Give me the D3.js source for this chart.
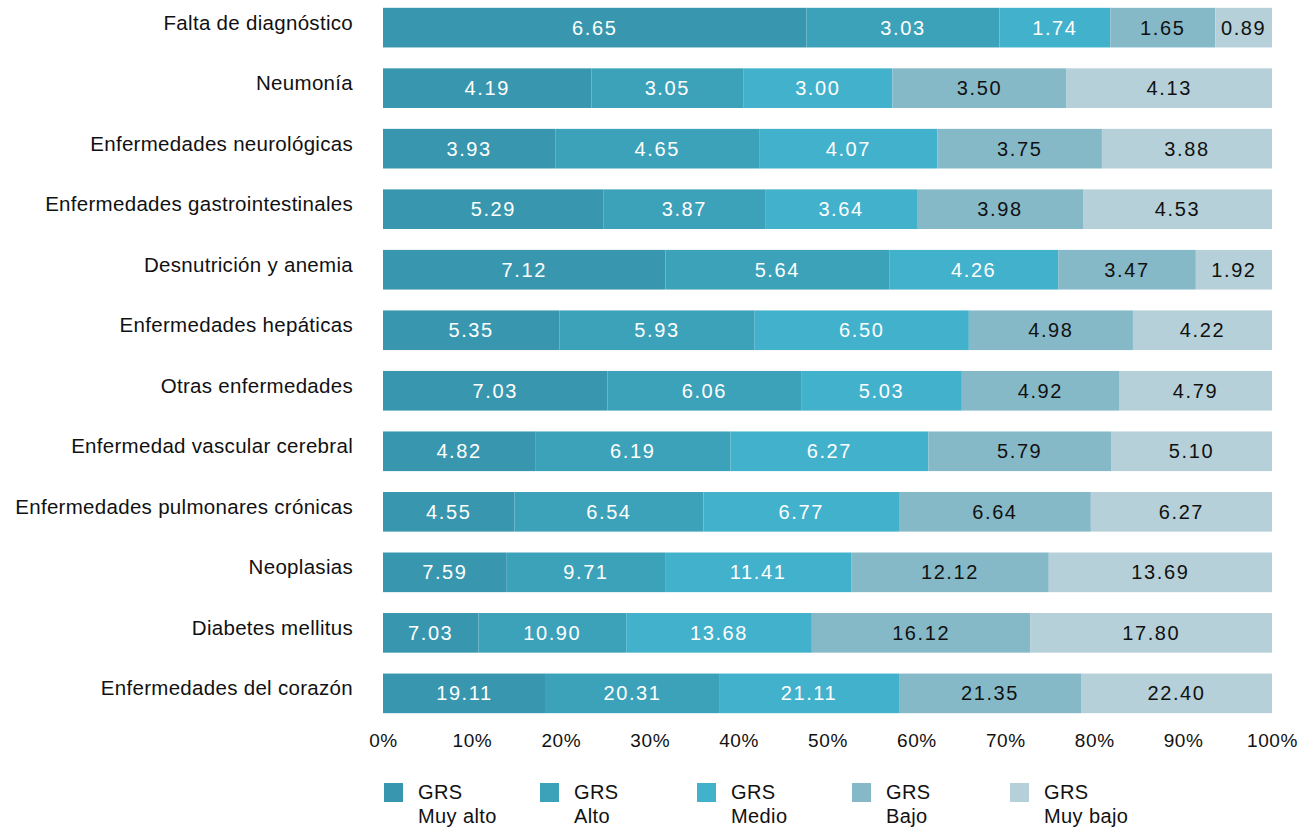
<!DOCTYPE html>
<html>
<head>
<meta charset="utf-8">
<script src="https://cdn.jsdelivr.net/npm/d3@7"></script>
<style>
  body { margin: 0; background: #fff; }
  svg text { font-family: "Liberation Sans", Arial, sans-serif; }
</style>
</head>
<body>
<div id="chart"></div>
<script>
// categories, top to bottom
const categories = [
  "Falta de diagnóstico",
  "Neumonía",
  "Enfermedades neurológicas",
  "Enfermedades gastrointestinales",
  "Desnutrición y anemia",
  "Enfermedades hepáticas",
  "Otras enfermedades",
  "Enfermedad vascular cerebral",
  "Enfermedades pulmonares crónicas",
  "Neoplasias",
  "Diabetes mellitus",
  "Enfermedades del corazón"
];

const seriesNames = ["GRS Muy alto", "GRS Alto", "GRS Medio", "GRS Bajo", "GRS Muy bajo"];

const muyAlto = [6.65, 4.19, 3.93, 5.29, 7.12, 5.35, 7.03, 4.82, 4.55, 7.59, 7.03, 19.11];
const alto    = [3.03, 3.05, 4.65, 3.87, 5.64, 5.93, 6.06, 6.19, 6.54, 9.71, 10.90, 20.31];
const medio   = [1.74, 3.00, 4.07, 3.64, 4.26, 6.50, 5.03, 6.27, 6.77, 11.41, 13.68, 21.11];
const bajo    = [1.65, 3.50, 3.75, 3.98, 3.47, 4.98, 4.92, 5.79, 6.64, 12.12, 16.12, 21.35];
const muyBajo = [0.89, 4.13, 3.88, 4.53, 1.92, 4.22, 4.79, 5.10, 6.27, 13.69, 17.80, 22.40];

const xTicks = [0, 0.1, 0.2, 0.3, 0.4, 0.5, 0.6, 0.7, 0.8, 0.9, 1];

const colors = ["#3897ae", "#3ca2ba", "#42b1cc", "#86b9c8", "#b5d0d8"];
const textColors = ["#fff", "#fff", "#fff", "#111", "#111"];

const seriesValues = [muyAlto, alto, medio, bajo, muyBajo];
const keys = seriesNames;

const rows = categories.map((c, i) => {
  const r = { category: c };
  keys.forEach((k, j) => { r[k] = seriesValues[j][i]; });
  return r;
});

const W = 1315, H = 832;
const margin = { top: 6, right: 43, bottom: 117, left: 383 };
const width = W - margin.left - margin.right;
const height = H - margin.top - margin.bottom;

const svg = d3.select("#chart").append("svg")
  .attr("width", W).attr("height", H);
const g = svg.append("g").attr("transform", `translate(${margin.left},${margin.top})`);

const x = d3.scaleLinear().domain([0, 1]).range([0, width]);
const y = d3.scaleBand().domain(categories).range([0, height]).paddingInner(0.345).paddingOuter(0.03);

const stack = d3.stack().keys(keys).offset(d3.stackOffsetExpand);
const stacked = stack(rows);

const layer = g.selectAll(".layer")
  .data(stacked)
  .enter().append("g")
  .attr("class", "layer")
  .attr("fill", (d, i) => colors[i]);

layer.selectAll("rect")
  .data(d => d)
  .enter().append("rect")
  .attr("x", d => x(d[0]))
  .attr("y", d => y(d.data.category))
  .attr("width", d => x(d[1]) - x(d[0]))
  .attr("height", y.bandwidth());

layer.each(function (s, i) {
  d3.select(this).selectAll("text")
    .data(s)
    .enter().append("text")
    .attr("x", d => (x(d[0]) + x(d[1])) / 2)
    .attr("y", d => y(d.data.category) + y.bandwidth() / 2)
    .attr("dy", "0.35em")
    .attr("text-anchor", "middle")
    .attr("fill", textColors[i])
    .style("font-size", "20px")
    .style("letter-spacing", "1.6px")
    .text(d => d.data[s.key].toFixed(2));
});

// category labels
const yAxis = g.append("g")
  .call(d3.axisLeft(y).tickSize(0).tickPadding(30));
yAxis.select(".domain").remove();
yAxis.selectAll("text")
  .attr("dy", "0.1em")
  .style("font-size", "20.5px")
  .style("letter-spacing", "0.3px")
  .attr("fill", "#111");

// x axis
const xAxis = g.append("g")
  .attr("transform", `translate(0,${height})`)
  .call(d3.axisBottom(x).tickValues(xTicks).tickFormat(d3.format(".0%")).tickSize(0).tickPadding(19));
xAxis.select(".domain").remove();
xAxis.selectAll("text")
  .style("font-size", "19px")
  .style("letter-spacing", "0.6px")
  .attr("fill", "#111");

// legend
const legendX = [384, 540, 697, 852, 1010];
const legend = svg.append("g");
seriesNames.forEach((name, i) => {
  const item = legend.append("g").attr("transform", `translate(${legendX[i]},783)`);
  item.append("rect").attr("width", 19).attr("height", 19).attr("fill", colors[i]);
  const parts = name.split(" ");
  const t = item.append("text")
    .attr("x", 34).attr("y", 16)
    .style("font-size", "20px")
    .style("letter-spacing", "0.4px")
    .attr("fill", "#111");
  t.append("tspan").attr("x", 34).text(parts[0]);
  t.append("tspan").attr("x", 34).attr("dy", "1.2em").text(parts.slice(1).join(" "));
});
</script>
</body>
</html>
